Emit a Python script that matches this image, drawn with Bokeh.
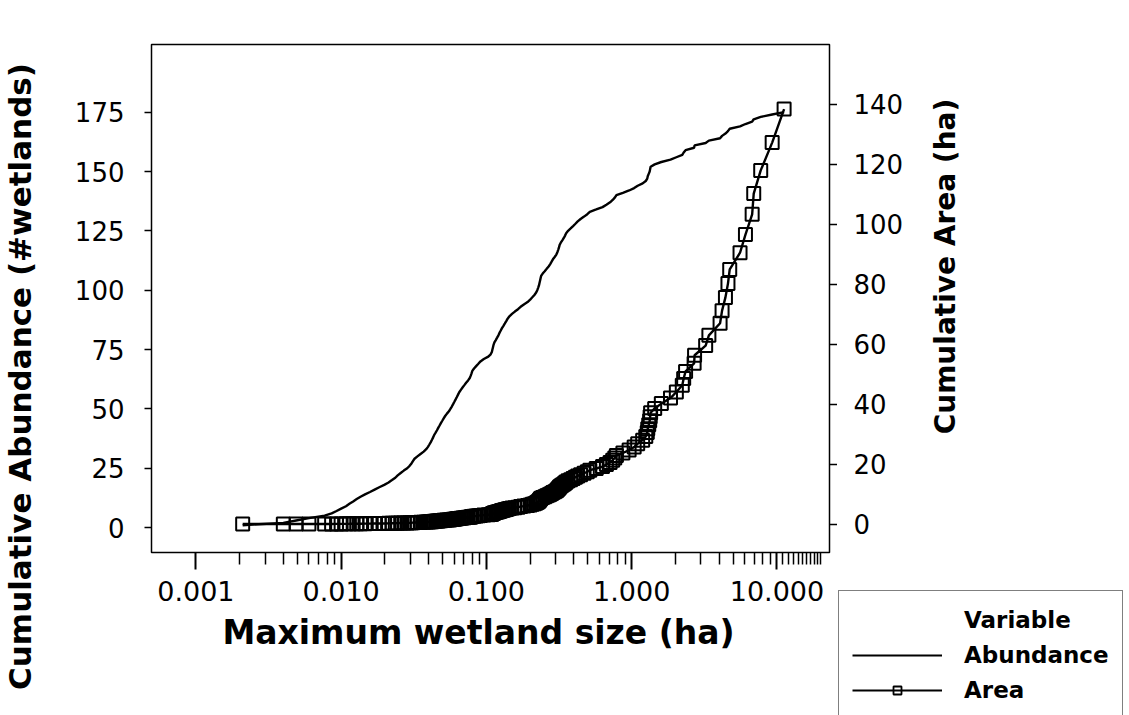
import math
from bokeh.plotting import figure
from bokeh.layouts import row, column
from bokeh.models import (Range1d, LinearAxis, FixedTicker, CustomJSTickFormatter,
                          Legend, LegendItem, Label)
from bokeh.embed import file_html
from bokeh.resources import INLINE

# ---------------- data ----------------
size_ha = [
    0.0021, 0.0040, 0.0049, 0.0060, 0.0077, 0.0086, 0.0093, 0.0100, 0.0108, 0.0114,
    0.0121, 0.0128, 0.0136, 0.0146, 0.0158, 0.0170, 0.0183, 0.0198, 0.0212, 0.0224,
    0.0236, 0.0245, 0.0257, 0.0270, 0.0285, 0.0296, 0.0305, 0.0312, 0.0320, 0.0335,
    0.0352, 0.0370, 0.0385, 0.0396, 0.0405, 0.0414, 0.0422, 0.0430, 0.0437, 0.0447,
    0.0457, 0.0466, 0.0476, 0.0486, 0.0497, 0.0508, 0.0520, 0.0535, 0.0552, 0.0565,
    0.0578, 0.0590, 0.0602, 0.0614, 0.0626, 0.0638, 0.0650, 0.0667, 0.0685, 0.0705,
    0.0725, 0.0748, 0.0768, 0.0780, 0.0790, 0.0800, 0.0822, 0.0850, 0.0880, 0.0910,
    0.0960, 0.1030, 0.1070, 0.1090, 0.1100, 0.1110, 0.1120, 0.1135, 0.1160, 0.1185,
    0.1210, 0.1230, 0.1255, 0.1280, 0.1310, 0.1340, 0.1370, 0.1400, 0.1440, 0.1500,
    0.1570, 0.1650, 0.1720, 0.1810, 0.1920, 0.2000, 0.2070, 0.2140, 0.2200, 0.2240,
    0.2270, 0.2300, 0.2320, 0.2340, 0.2360, 0.2380, 0.2440, 0.2520, 0.2600, 0.2680,
    0.2750, 0.2810, 0.2870, 0.2950, 0.3030, 0.3080, 0.3120, 0.3160, 0.3190, 0.3250,
    0.3330, 0.3410, 0.3480, 0.3540, 0.3650, 0.3800, 0.3950, 0.4100, 0.4250, 0.4450,
    0.4700, 0.4950, 0.5150, 0.5700, 0.6300, 0.6700, 0.7100, 0.7400, 0.7650, 0.7850,
    0.8700, 0.9600, 1.0400, 1.1000, 1.1900, 1.2500, 1.2800, 1.2900, 1.3100, 1.3300,
    1.3400, 1.3500, 1.4400, 1.6000, 1.8500, 2.0300, 2.2300, 2.2800, 2.3500, 2.6900,
    2.7100, 3.2300, 3.4000, 4.0600, 4.1900, 4.4200, 4.6000, 4.7300, 5.5700, 6.0700,
    6.7500, 6.9200, 7.7300, 9.2700, 11.2000,
]

cum_abundance = [
    1, 2, 3, 4, 5, 6, 7, 8, 9, 10, 11, 12, 13, 14, 15, 16, 17, 18, 19, 20,
    21, 22, 23, 24, 25, 26, 27, 28, 29, 30, 31, 32, 33, 34, 35, 36, 37, 38, 39, 40,
    41, 42, 43, 44, 45, 46, 47, 48, 49, 50, 51, 52, 53, 54, 55, 56, 57, 58, 59, 60,
    61, 62, 63, 64, 65, 66, 67, 68, 69, 70, 71, 72, 73, 74, 75, 76, 77, 78, 79, 80,
    81, 82, 83, 84, 85, 86, 87, 88, 89, 90, 91, 92, 93, 94, 95, 96, 97, 98, 99, 100,
    101, 102, 103, 104, 105, 106, 107, 108, 109, 110, 111, 112, 113, 114, 115, 116,
    117, 118, 119, 120, 121, 122, 123, 124, 125, 126, 127, 128, 129, 130, 131, 132,
    133, 134, 135, 136, 137, 138, 139, 140, 141, 142, 143, 144, 145, 146, 147, 148,
    149, 150, 151, 152, 153, 154, 155, 156, 157, 158, 159, 160, 161, 162, 163, 164,
    165, 166, 167, 168, 169, 170, 171, 172, 173, 174, 175,
]

cum_area_ha = [
    0.00, 0.01, 0.01, 0.02, 0.02, 0.03, 0.04, 0.05, 0.06, 0.07,
    0.09, 0.10, 0.11, 0.13, 0.14, 0.16, 0.18, 0.20, 0.22, 0.24,
    0.27, 0.29, 0.32, 0.34, 0.37, 0.40, 0.43, 0.46, 0.50, 0.53,
    0.56, 0.60, 0.64, 0.68, 0.72, 0.76, 0.80, 0.85, 0.89, 0.93,
    0.98, 1.03, 1.07, 1.12, 1.17, 1.22, 1.28, 1.33, 1.38, 1.44,
    1.50, 1.56, 1.62, 1.68, 1.74, 1.81, 1.87, 1.94, 2.01, 2.08,
    2.15, 2.22, 2.30, 2.38, 2.46, 2.54, 2.62, 2.70, 2.79, 2.88,
    2.98, 3.08, 3.19, 3.30, 3.41, 3.52, 3.63, 3.74, 3.86, 3.98,
    4.10, 4.22, 4.35, 4.48, 4.61, 4.74, 4.88, 5.02, 5.16, 5.31,
    5.47, 5.63, 5.81, 5.99, 6.18, 6.38, 6.59, 6.80, 7.02, 7.24,
    7.47, 7.70, 7.93, 8.17, 8.40, 8.64, 8.89, 9.14, 9.40, 9.67,
    9.94, 10.22, 10.51, 10.80, 11.11, 11.41, 11.73, 12.04, 12.36, 12.69,
    13.02, 13.36, 13.71, 14.06, 14.43, 14.81, 15.20, 15.61, 16.04, 16.48,
    16.95, 17.45, 17.96, 18.53, 19.16, 19.83, 20.54, 21.28, 22.05, 22.83,
    23.70, 24.66, 25.70, 26.80, 27.99, 29.24, 30.52, 31.81, 33.12, 34.45,
    35.79, 37.14, 38.58, 40.18, 42.03, 44.06, 46.29, 48.57, 50.92, 53.61,
    56.32, 59.55, 62.95, 67.01, 71.20, 75.62, 80.22, 84.95, 90.52, 96.59,
    103.34, 110.26, 117.99, 127.26, 138.46,
]

x_major_ticks = [0.001, 0.01, 0.1, 1.0, 10.0]
x_minor_ticks = [
    0.002, 0.003, 0.004, 0.005, 0.006, 0.007, 0.008, 0.009,
    0.02, 0.03, 0.04, 0.05, 0.06, 0.07, 0.08, 0.09,
    0.2, 0.3, 0.4, 0.5, 0.6, 0.7, 0.8, 0.9,
    2, 3, 4, 5, 6, 7, 8, 9,
    11, 12, 13, 14, 15, 16, 17, 18, 19, 20,
]
abundance_ticks = [0, 25, 50, 75, 100, 125, 150, 175]
area_ticks = [0, 20, 40, 60, 80, 100, 120, 140]

x_title = "Maximum wetland size (ha)"
left_title = "Cumulative Abundance (#wetlands)"
right_title = "Cumulative Area (ha)"
legend_title = "Variable"
series_names = ["Abundance", "Area"]

FONT = "DejaVu Sans"

# ---------------- page geometry (pixels) ----------------
PAGE_W, PAGE_H = 1129, 715
TITLE_W = 50                     # strip for the left title
FR_L, FR_R = 151, 829            # main frame left / right
FR_T, FR_B = 44, 552             # main frame top / bottom
MAIN_H = 612                     # main plot height (x title strip below)
MAIN_W = 837 - TITLE_W
RAX_W = 88                       # right tick-label strip
RIGHT_W = PAGE_W - 837
RSPLIT = 580                     # right column: axis/title above, legend below

X0, X1 = 0.000495, 23.0
Y_AB = (-10.5, 203.5)
Y_AR = (-9.5, 160.0)


def style_blank(fig):
    fig.grid.visible = False
    fig.outline_line_color = None
    fig.background_fill_color = "white"
    fig.border_fill_color = "white"


def blank_fig(w, h, xr=(0, 1), yr=(0, 1)):
    fig = figure(width=w, height=h, title=None, x_range=Range1d(*xr),
                 y_range=Range1d(*yr), x_axis_location=None, y_axis_location=None,
                 min_border=0, output_backend="svg", toolbar_location=None)
    style_blank(fig)
    return fig


# ---------------- main plot ----------------
main = figure(width=MAIN_W, height=MAIN_H, title=None, x_axis_type="log",
              x_range=Range1d(X0, X1), y_range=Range1d(*Y_AB),
              output_backend="svg", toolbar_location=None,
              min_border_left=FR_L - TITLE_W, min_border_right=837 - FR_R,
              min_border_top=FR_T, min_border_bottom=MAIN_H - FR_B)
main.extra_y_ranges = {"area": Range1d(*Y_AR)}
main.grid.visible = False
main.outline_line_color = "black"
main.outline_line_width = 1.5
main.background_fill_color = "white"
main.border_fill_color = "white"

xa = main.xaxis[0]
xa.ticker = FixedTicker(ticks=x_major_ticks, minor_ticks=x_minor_ticks)
xa.formatter = CustomJSTickFormatter(code="return tick.toFixed(3);")
xa.axis_line_color = None
xa.major_tick_in = 0
xa.major_tick_out = 17
xa.minor_tick_in = 0
xa.minor_tick_out = 12
xa.major_tick_line_width = 2
xa.minor_tick_line_width = 1.5
xa.major_tick_line_color = "black"
xa.minor_tick_line_color = "black"
xa.major_label_standoff = 11
xa.major_label_text_font = FONT
xa.major_label_text_font_size = "27px"
xa.major_label_text_color = "black"

ya = main.yaxis[0]
ya.ticker = FixedTicker(ticks=abundance_ticks)
ya.axis_line_color = None
ya.major_tick_in = 0
ya.major_tick_out = 7
ya.major_tick_line_width = 1.5
ya.major_tick_line_color = "black"
ya.minor_tick_line_color = None
ya.major_label_standoff = 20
ya.major_label_text_font = FONT
ya.major_label_text_font_size = "26px"
ya.major_label_text_color = "black"

ra = LinearAxis(y_range_name="area", ticker=FixedTicker(ticks=area_ticks))
ra.formatter = CustomJSTickFormatter(code="return '';")
ra.major_label_standoff = 0
ra.axis_line_color = None
ra.major_tick_in = 0
ra.major_tick_out = 8
ra.major_tick_line_width = 1.5
ra.major_tick_line_color = "black"
ra.minor_tick_line_color = None
main.add_layout(ra, "right")

ab_r = main.line(x=size_ha, y=cum_abundance, line_color="black", line_width=2.4)
ar_line = main.line(x=size_ha, y=cum_area_ha, y_range_name="area",
                    line_color="black", line_width=2.4)
ar_pts = main.scatter(x=size_ha, y=cum_area_ha, y_range_name="area", marker="square",
                      size=13, line_color="black", line_width=2, fill_color=None)

# ---------------- left title strip ----------------
left_fig = blank_fig(TITLE_W, PAGE_H)
left_fig.add_layout(Label(x=19, y=PAGE_H - 376, x_units="screen", y_units="screen",
                          text=left_title, angle=math.pi / 2, text_font=FONT,
                          text_font_style="bold", text_font_size="31px",
                          text_align="center", text_baseline="middle",
                          text_color="black"))

# ---------------- x title strip (frame aligned with the main frame) ----------------
bottom_fig = blank_fig(MAIN_W, PAGE_H - MAIN_H)
bottom_fig.add_layout(Label(x=478 - FR_L, y=PAGE_H - 632, x_units="screen",
                            y_units="screen", text=x_title, text_font=FONT,
                            text_font_style="bold", text_font_size="33px",
                            text_align="center", text_baseline="middle",
                            text_color="black"))

# ---------------- right tick labels ----------------
raxis_fig = figure(width=RAX_W, height=RSPLIT, title=None,
                   x_range=Range1d(0, 1), y_range=Range1d(*Y_AR),
                   x_axis_location=None, y_axis_location=None,
                   min_border_left=0, min_border_right=RAX_W - 1,
                   min_border_top=FR_T, min_border_bottom=RSPLIT - FR_B,
                   output_backend="svg", toolbar_location=None)
style_blank(raxis_fig)
rr = LinearAxis(ticker=FixedTicker(ticks=area_ticks))
rr.axis_line_color = None
rr.major_tick_line_color = None
rr.minor_tick_line_color = None
rr.major_tick_in = 0
rr.major_tick_out = 0
rr.major_label_standoff = 15
rr.major_label_text_font = FONT
rr.major_label_text_font_size = "26px"
rr.major_label_text_color = "black"
raxis_fig.add_layout(rr, "right")

# ---------------- right title strip (frame aligned with 44..552) ----------------
rtitle_fig = blank_fig(RIGHT_W - RAX_W, RSPLIT)
rtitle_fig.add_layout(Label(x=945 - 837 - RAX_W, y=FR_B - 266, x_units="screen",
                            y_units="screen", text=right_title, angle=math.pi / 2,
                            text_font=FONT, text_font_style="bold",
                            text_font_size="28px", text_align="center",
                            text_baseline="middle", text_color="black"))

# ---------------- legend (its sample glyphs sit outside this strip's ranges) ----------------
leg_fig = blank_fig(RIGHT_W, PAGE_H - RSPLIT, xr=(100, 101), yr=(1000, 1001))
lg_var = leg_fig.line(x=size_ha[:1], y=cum_abundance[:1], line_alpha=0)
lg_ab = leg_fig.line(x=size_ha[:1], y=cum_abundance[:1], line_color="black", line_width=2)
lg_ar_line = leg_fig.line(x=size_ha[:1], y=cum_area_ha[:1], line_color="black",
                          line_width=2)
lg_ar_pts = leg_fig.scatter(x=size_ha[:1], y=cum_area_ha[:1], marker="square", size=12,
                            line_color="black", line_width=1.8, fill_color=None)
legend = Legend(items=[
    LegendItem(label=legend_title, renderers=[lg_var]),
    LegendItem(label=series_names[0], renderers=[lg_ab]),
    LegendItem(label=series_names[1], renderers=[lg_ar_line, lg_ar_pts]),
], location=(1, -4))
legend.label_text_font = FONT
legend.label_text_font_style = "bold"
legend.label_text_font_size = "23px"
legend.label_text_color = "black"
legend.glyph_width = 90
legend.glyph_height = 20
legend.label_height = 31
legend.label_standoff = 22
legend.spacing = 4
legend.padding = 13
legend.margin = 0
legend.border_line_color = "black"
legend.border_line_width = 1.5
legend.background_fill_color = "white"
legend.background_fill_alpha = 1.0
leg_fig.add_layout(legend)

layout = row(left_fig,
             column(main, bottom_fig),
             column(row(raxis_fig, rtitle_fig), leg_fig))

open("out.html", "w").write(file_html(layout, INLINE))
